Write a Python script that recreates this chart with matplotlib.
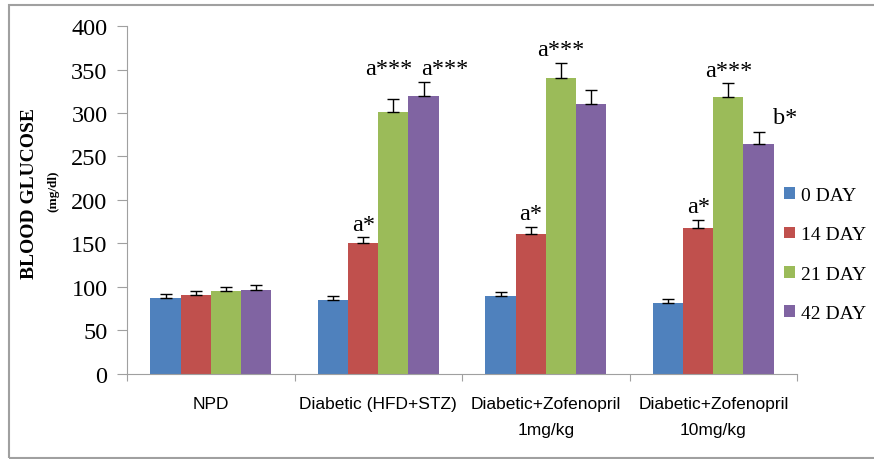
import numpy as np
import matplotlib.pyplot as plt
from matplotlib.patches import Rectangle

groups = ['NPD', 'Diabetic (HFD+STZ)', 'Diabetic+Zofenopril\n1mg/kg', 'Diabetic+Zofenopril\n10mg/kg']
series = ['0 DAY', '14 DAY', '21 DAY', '42 DAY']
colors = ['#4F81BD', '#C0504D', '#9BBB59', '#8064A2']

day0 = [87, 85, 90, 82]
day14 = [91, 150, 161, 168]
day21 = [95, 301, 340, 318]
day42 = [97, 319, 310, 264]

err0 = [5, 4.5, 4, 4]
err14 = [4.5, 7, 7.5, 9]
err21 = [5.5, 15, 18, 16]
err42 = [5.5, 17, 16, 14]

# significance labels (group, series index, text, label height, x shift)
sig = [(1, 1, 'a*', 160, 0), (1, 2, 'a***', 339, -0.03), (1, 3, 'a***', 339, 0.125),
       (2, 1, 'a*', 172, 0), (2, 2, 'a***', 361, 0),
       (3, 1, 'a*', 180, 0), (3, 2, 'a***', 337, 0), (3, 3, 'b*', 283, 0.16)]

values = [day0, day14, day21, day42]
errors = [err0, err14, err21, err42]

serif = ['Liberation Serif', 'DejaVu Serif']
sans = ['Liberation Sans', 'DejaVu Sans']

fig = plt.figure(figsize=(8.74, 4.60), dpi=100)
ax = fig.add_axes([0.1453, 0.1848, 0.9120 - 0.1453, 0.9413 - 0.1848])

x = np.arange(len(groups))
w = 0.18
for i, (vals, errs) in enumerate(zip(values, errors)):
    pos = x + (i - 1.5) * w
    ax.bar(pos, vals, width=w, color=colors[i], label=series[i], zorder=2)
    ax.errorbar(pos, vals, yerr=[np.zeros(len(errs)), errs], fmt='none',
                ecolor='black', elinewidth=1, capsize=4, capthick=1, zorder=3)

for g, s, txt, yp, dx in sig:
    xp = g + (s - 1.5) * w + dx
    ax.text(xp, yp, txt, ha='center', va='bottom', fontsize=17.5, family=serif)

ax.set_xlim(-0.5, 3.5)
ax.set_ylim(0, 400)
ax.set_yticks(np.arange(0, 401, 50))
ax.set_xticks(np.arange(-0.5, 3.6, 1))
ax.set_xticklabels([])
ax.set_xticks(x, minor=True)
ax.set_xticklabels(groups, minor=True, fontsize=12.5, family=sans, linespacing=1.9)
ax.tick_params(axis='x', which='minor', length=0, pad=16)
ax.tick_params(axis='x', which='major', length=5, color='#A0A0A0', direction='out')
ax.tick_params(axis='y', length=7, color='#A0A0A0', labelsize=17.5, pad=7)
for lbl in ax.get_yticklabels():
    lbl.set_family(serif)

for sp in ['top', 'right']:
    ax.spines[sp].set_visible(False)
for sp in ['left', 'bottom']:
    ax.spines[sp].set_color('#A0A0A0')

fig.text(0.034, 0.58, 'BLOOD GLUCOSE', rotation=90, ha='center', va='center',
         fontsize=14, fontweight='bold', family=serif)
fig.text(0.061, 0.585, '(mg/dl)', rotation=90, ha='center', va='center',
         fontsize=9.5, fontweight='bold', family=serif)

leg = fig.legend(loc='center left', bbox_to_anchor=(0.897, 0.4446), frameon=False,
                 prop={'family': serif[0], 'size': 14}, handlelength=0.55,
                 handleheight=0.55, handletextpad=0.3, labelspacing=1.15,
                 borderpad=0, borderaxespad=0)

fig.add_artist(Rectangle((0.0103, 0.0022), 1.2, 0.985, transform=fig.transFigure,
                         fill=False, edgecolor='#A0A0A0', linewidth=1.5))

fig.savefig('out.png', dpi=100)
